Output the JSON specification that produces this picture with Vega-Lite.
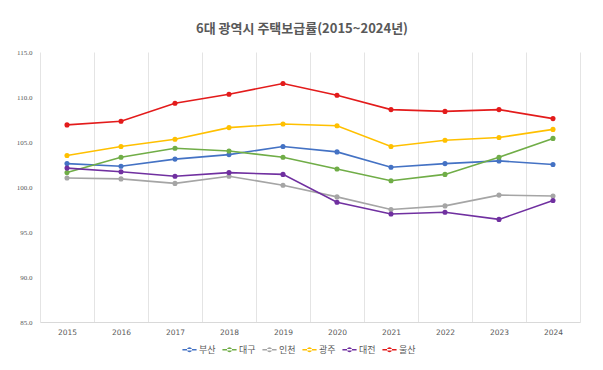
{
  "$schema": "https://vega.github.io/schema/vega-lite/v6.json",
  "width": 540,
  "height": 270,
  "autosize": {"type": "none"},
  "padding": {"left": 40, "top": 52, "right": 23, "bottom": 48},
  "background": "white",
  "title": {
    "text": "6대 광역시 주택보급률(2015~2024년)",
    "font": "Noto Sans CJK KR",
    "fontSize": 13,
    "fontWeight": "bold",
    "color": "#595959",
    "anchor": "middle",
    "dx": -8,
    "offset": 12
  },
  "data": {
    "values": [
      {"year": 2015, "city": "부산", "value": 102.6},
      {"year": 2016, "city": "부산", "value": 102.3},
      {"year": 2017, "city": "부산", "value": 103.1},
      {"year": 2018, "city": "부산", "value": 103.6},
      {"year": 2019, "city": "부산", "value": 104.5},
      {"year": 2020, "city": "부산", "value": 103.9},
      {"year": 2021, "city": "부산", "value": 102.2},
      {"year": 2022, "city": "부산", "value": 102.6},
      {"year": 2023, "city": "부산", "value": 102.9},
      {"year": 2024, "city": "부산", "value": 102.5},
      {"year": 2015, "city": "대구", "value": 101.6},
      {"year": 2016, "city": "대구", "value": 103.3},
      {"year": 2017, "city": "대구", "value": 104.3},
      {"year": 2018, "city": "대구", "value": 104.0},
      {"year": 2019, "city": "대구", "value": 103.3},
      {"year": 2020, "city": "대구", "value": 102.0},
      {"year": 2021, "city": "대구", "value": 100.7},
      {"year": 2022, "city": "대구", "value": 101.4},
      {"year": 2023, "city": "대구", "value": 103.3},
      {"year": 2024, "city": "대구", "value": 105.4},
      {"year": 2015, "city": "인천", "value": 101.0},
      {"year": 2016, "city": "인천", "value": 100.9},
      {"year": 2017, "city": "인천", "value": 100.4},
      {"year": 2018, "city": "인천", "value": 101.2},
      {"year": 2019, "city": "인천", "value": 100.2},
      {"year": 2020, "city": "인천", "value": 98.9},
      {"year": 2021, "city": "인천", "value": 97.5},
      {"year": 2022, "city": "인천", "value": 97.9},
      {"year": 2023, "city": "인천", "value": 99.1},
      {"year": 2024, "city": "인천", "value": 99.0},
      {"year": 2015, "city": "광주", "value": 103.5},
      {"year": 2016, "city": "광주", "value": 104.5},
      {"year": 2017, "city": "광주", "value": 105.3},
      {"year": 2018, "city": "광주", "value": 106.6},
      {"year": 2019, "city": "광주", "value": 107.0},
      {"year": 2020, "city": "광주", "value": 106.8},
      {"year": 2021, "city": "광주", "value": 104.5},
      {"year": 2022, "city": "광주", "value": 105.2},
      {"year": 2023, "city": "광주", "value": 105.5},
      {"year": 2024, "city": "광주", "value": 106.4},
      {"year": 2015, "city": "대전", "value": 102.1},
      {"year": 2016, "city": "대전", "value": 101.7},
      {"year": 2017, "city": "대전", "value": 101.2},
      {"year": 2018, "city": "대전", "value": 101.6},
      {"year": 2019, "city": "대전", "value": 101.4},
      {"year": 2020, "city": "대전", "value": 98.3},
      {"year": 2021, "city": "대전", "value": 97.0},
      {"year": 2022, "city": "대전", "value": 97.2},
      {"year": 2023, "city": "대전", "value": 96.4},
      {"year": 2024, "city": "대전", "value": 98.5},
      {"year": 2015, "city": "울산", "value": 106.9},
      {"year": 2016, "city": "울산", "value": 107.3},
      {"year": 2017, "city": "울산", "value": 109.3},
      {"year": 2018, "city": "울산", "value": 110.3},
      {"year": 2019, "city": "울산", "value": 111.5},
      {"year": 2020, "city": "울산", "value": 110.2},
      {"year": 2021, "city": "울산", "value": 108.6},
      {"year": 2022, "city": "울산", "value": 108.4},
      {"year": 2023, "city": "울산", "value": 108.6},
      {"year": 2024, "city": "울산", "value": 107.6}
    ]
  },
  "encoding": {
    "x": {
      "field": "year",
      "type": "quantitative",
      "scale": {"domain": [2014.5, 2024.5], "nice": false, "zero": false},
      "axis": {
        "title": null,
        "values": [2014.5, 2015.5, 2016.5, 2017.5, 2018.5, 2019.5, 2020.5, 2021.5, 2022.5, 2023.5, 2024.5],
        "labelExpr": "datum.value > 2024 ? '' : format(datum.value + 0.5, 'd')",
        "labelOffset": 27,
        "labelAlign": "center",
        "labelFont": "DejaVu Sans",
        "labelFontSize": 7.5,
        "labelColor": "#595959",
        "labelPadding": 6,
        "labelFlush": false,
        "labelOverlap": false,
        "ticks": false,
        "grid": true,
        "gridColor": "#e4e4e4",
        "gridWidth": 1,
        "domain": true,
        "domainColor": "#d9d9d9",
        "domainWidth": 1
      }
    },
    "y": {
      "field": "value",
      "type": "quantitative",
      "scale": {"domain": [85, 115], "nice": false, "zero": false},
      "axis": {
        "title": null,
        "values": [85, 90, 95, 100, 105, 110, 115],
        "format": ".1f",
        "labelFont": "Liberation Serif",
        "labelFontSize": 7,
        "labelColor": "#595959",
        "labelPadding": 8,
        "ticks": false,
        "domain": false,
        "grid": false
      }
    },
    "color": {
      "field": "city",
      "type": "nominal",
      "sort": ["부산", "대구", "인천", "광주", "대전", "울산"],
      "scale": {
        "domain": ["부산", "대구", "인천", "광주", "대전", "울산"],
        "range": ["#4472C4", "#70AD47", "#A5A5A5", "#FFC000", "#7030A0", "#E31B1B"]
      },
      "legend": {
        "title": null,
        "orient": "none",
        "direction": "horizontal",
        "legendX": 142,
        "legendY": 290,
        "labelFont": "Noto Sans CJK KR",
        "labelFontSize": 9,
        "labelColor": "#595959",
        "columnPadding": 6,
        "symbolSize": 200,
        "labelOffset": 2,
        "encode": {
          "symbols": {
            "update": {
              "shape": {"value": "M-1,-0.11L1,-0.11L1,0.11L-1,0.11Z M-0.36,0A0.36,0.36 0 1,0 0.36,0A0.36,0.36 0 1,0 -0.36,0Z"},
              "size": {"value": 200},
              "fill": {"scale": "color", "field": "value"},
              "stroke": {"value": "transparent"},
              "strokeWidth": {"value": 0},
              "opacity": {"value": 1}
            }
          }
        }
      }
    }
  },
  "layer": [
    {"mark": {"type": "line", "strokeWidth": 1.6}},
    {"mark": {"type": "point", "filled": true, "size": 26, "opacity": 1}}
  ],
  "config": {
    "view": {"stroke": null}
  }
}
